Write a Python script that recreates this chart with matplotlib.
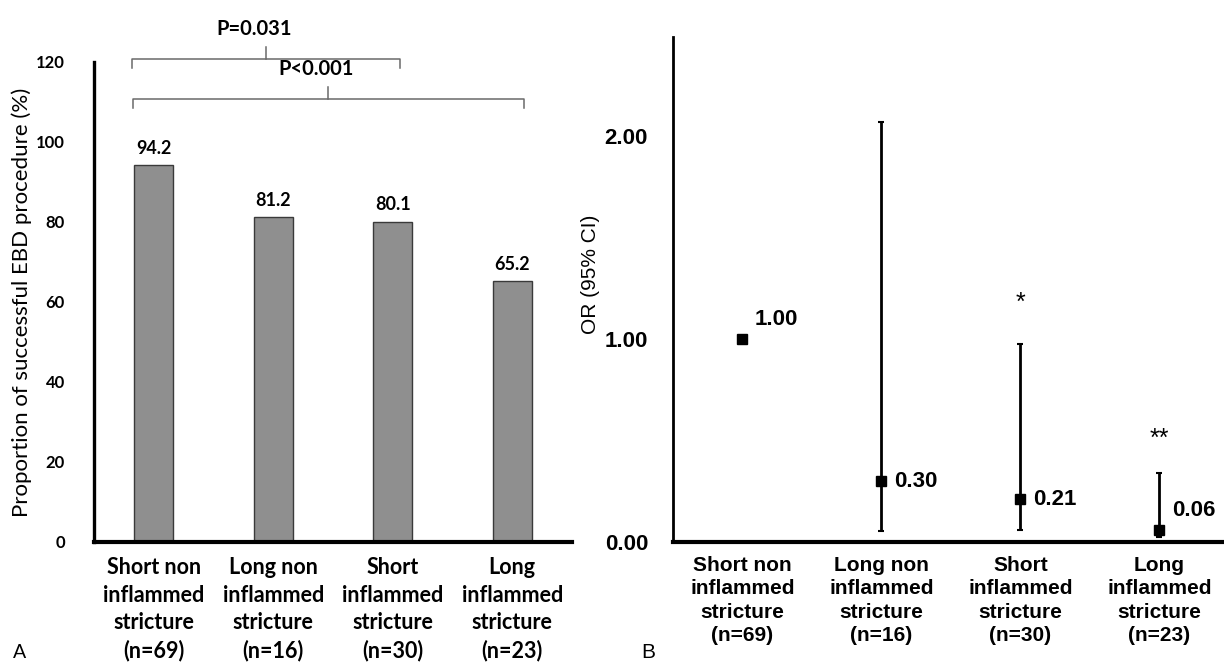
import matplotlib
matplotlib.use("Agg")
import matplotlib.pyplot as plt
import numpy as np

# ---------------- data ----------------
categories = ["Short non\ninflammed\nstricture\n(n=69)",
              "Long non\ninflammed\nstricture\n(n=16)",
              "Short\ninflammed\nstricture\n(n=30)",
              "Long\ninflammed\nstricture\n(n=23)"]
success_pct = [94.2, 81.2, 80.1, 65.2]
pct_ticks = [0, 20, 40, 60, 80, 100, 120]

odds_ratio = [1.00, 0.30, 0.21, 0.06]
ci_low = [np.nan, 0.055, 0.058, 0.025]
ci_high = [np.nan, 2.07, 0.975, 0.34]
or_ticks = [0.0, 1.0, 2.0]
or_labels = ["1.00", "0.30", "0.21", "0.06"]
stars = ["", "", "*", "**"]
star_y = [np.nan, np.nan, 1.18, 0.51]

# brackets: (x_start, x_end, x_mid, y, text)
brackets = [(-0.18, 2.06, 0.94, 120.75, "P=0.031"),
            (-0.17, 3.10, 1.46, 110.75, "P<0.001")]

W, H = 1224, 667
fig = plt.figure(figsize=(W / 100, H / 100), dpi=100)

LEFT_FONT = "Lato"
RIGHT_FONT = "Liberation Sans"

# ---------------- panel A ----------------
axA = fig.add_axes([94 / W, (H - 542) / H, 478 / W, 480 / H])
x = np.arange(len(categories))
axA.bar(x, success_pct, width=0.33, color="#8f8f8f", edgecolor="#3a3a3a", linewidth=1.0, zorder=2)
axA.set_xlim(-0.5, 3.5)
axA.set_ylim(0, 120)
axA.set_yticks(pct_ticks)
axA.set_yticklabels([str(t) for t in pct_ticks], fontfamily=LEFT_FONT, fontweight="bold", fontsize=12)
axA.set_xticks(x)
axA.set_xticklabels(categories, fontfamily=LEFT_FONT, fontweight="bold", fontsize=15.5, linespacing=1.38)
axA.tick_params(axis="both", length=0)
axA.tick_params(axis="y", pad=21)
axA.tick_params(axis="x", pad=11)
for s in ["top", "right"]:
    axA.spines[s].set_visible(False)
axA.spines["left"].set_linewidth(2.4)
axA.spines["bottom"].set_linewidth(3.0)
axA.set_ylabel("Proportion of successful EBD procedure (%)", fontfamily=LEFT_FONT, fontsize=16)
axA.yaxis.set_label_coords((32 - 94) / 478, 0.5)

for xi, v in zip(x, success_pct):
    axA.annotate(f"{v:.1f}", (xi, v), xytext=(0, 6), textcoords="offset points",
                 ha="center", va="bottom", fontfamily=LEFT_FONT, fontweight="bold", fontsize=13)

for x0, x1, xm, yb, txt in brackets:
    col = "#6a6a6a"
    axA.plot([x0, x0, x1, x1], [yb - 2.2, yb, yb, yb - 2.2], color=col, lw=1.1, clip_on=False)
    axA.plot([xm, xm], [yb, yb + 3.0], color=col, lw=1.1, clip_on=False)
    axA.text(xm - 0.1, yb + 5.0, txt, ha="center", va="bottom", fontfamily=LEFT_FONT,
             fontweight="bold", fontsize=14.5, clip_on=False)

fig.text(20 / W, 1 - 652 / H, "A", fontfamily=LEFT_FONT, fontsize=14, ha="center", va="center")

# ---------------- panel B ----------------
axB = fig.add_axes([673 / W, (H - 542) / H, 549 / W, 505 / H])
axB.set_xlim(-0.5, 3.45)
axB.set_ylim(0, 2.49)
xb = np.arange(len(categories))
lo = np.array(odds_ratio) - np.array(ci_low)
hi = np.array(ci_high) - np.array(odds_ratio)
mask = ~np.isnan(lo)
axB.errorbar(xb[mask], np.array(odds_ratio)[mask], yerr=[lo[mask], hi[mask]], fmt="none",
             ecolor="black", elinewidth=2.0, capsize=2.5, capthick=1.5, zorder=2)
axB.plot(xb, odds_ratio, linestyle="none", marker="s", markersize=7, color="black", zorder=3)

label_dy = [14, 0, 0, 14]
for xi, v, lab, dy in zip(xb, odds_ratio, or_labels, label_dy):
    axB.annotate(lab, (xi, v), xytext=(9, dy), textcoords="offset points", ha="left", va="center",
                 fontfamily=RIGHT_FONT, fontweight="bold", fontsize=16)
for xi, st, sy in zip(xb, stars, star_y):
    if st:
        axB.text(xi, sy, st, ha="center", va="center", fontfamily=RIGHT_FONT, fontsize=18)

axB.set_yticks(or_ticks)
axB.set_yticklabels([f"{t:.2f}" for t in or_ticks], fontfamily=RIGHT_FONT, fontweight="bold", fontsize=16)
axB.set_xticks(xb)
axB.set_xticklabels(categories, fontfamily=RIGHT_FONT, fontweight="bold", fontsize=15, linespacing=1.3)
axB.tick_params(axis="both", length=0)
axB.tick_params(axis="y", pad=18)
axB.tick_params(axis="x", pad=10)
for s in ["top", "right"]:
    axB.spines[s].set_visible(False)
axB.spines["left"].set_linewidth(2.0)
axB.spines["bottom"].set_linewidth(3.0)
axB.set_ylabel("OR (95% CI)", fontfamily=RIGHT_FONT, fontsize=15)
axB.yaxis.set_label_coords((600 - 673) / 549, 0.53)

fig.text(648 / W, 1 - 652 / H, "B", fontfamily=RIGHT_FONT, fontsize=15, ha="center", va="center")

fig.savefig("out.png", dpi=100, facecolor="white")
